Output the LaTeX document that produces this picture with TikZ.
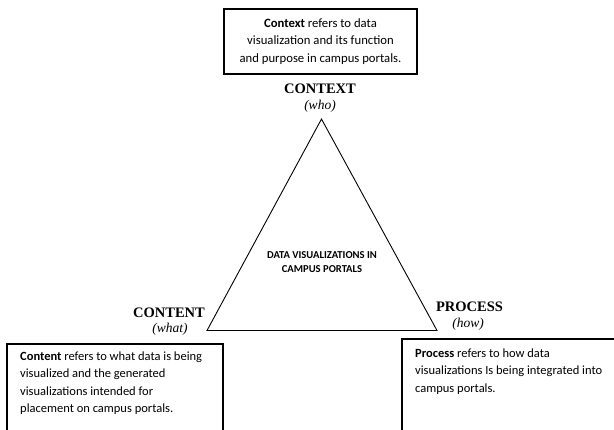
\documentclass[tikz,border=0pt]{standalone}
\usepackage{fontspec}
\setmainfont{Carlito}
\newfontfamily\labelfont{Liberation Serif}
\begin{document}
\begin{tikzpicture}[x=1pt,y=-1pt,
  frame/.style={draw=black, line width=1.1pt},
  desc/.style={font=\fontsize{12.5}{17.5}\selectfont, align=left, inner sep=0pt, anchor=north west},
  vertex/.style={font=\labelfont\fontsize{14.5}{15}\selectfont\bfseries, inner sep=0pt},
  role/.style={font=\labelfont\fontsize{13.5}{14}\selectfont\itshape, inner sep=0pt},
  core/.style={font=\fontsize{10.6}{14}\selectfont\bfseries, align=center, inner sep=0pt}]
\useasboundingbox[fill=white] (0,0) rectangle (614,429);

% context description box
\node[frame, minimum width=193pt, minimum height=65pt, inner sep=0pt, align=center,
      font=\fontsize{12.7}{17.5}\selectfont] (contextbox) at (320.5,41.5)
  {\textbf{Context} refers to data\\visualization and its function\\and purpose in campus portals.};

% the triangle
\coordinate (apex) at (321.5,119);
\coordinate (left) at (207,330.5);
\coordinate (right) at (437,330.5);
\draw[line width=0.9pt, line join=miter] (apex) -- (left) -- (right) -- cycle;

\node[core] (core) at (322,262.5) {DATA VISUALIZATIONS IN\\CAMPUS PORTALS};

% corner labels
\node[vertex] (context) at (320,89) {CONTEXT};
\node[role] (who) at (320,106.5) {(who)};
\node[vertex] (content) at (169,312.5) {CONTENT};
\node[role] (what) at (170,329.5) {(what)};
\node[vertex] (process) at (469.5,307) {PROCESS};
\node[role] (how) at (468,324) {(how)};

% content description box
\coordinate (cnw) at (7,344);
\coordinate (cse) at (223,445);
\draw[frame] (cnw) rectangle (cse);
\node[desc] (contenttext) at (20,351.5)
  {\textbf{Content} refers to what data is being\\visualized and the generated\\visualizations intended for\\placement on campus portals.};

% process description box
\coordinate (pnw) at (402,339);
\coordinate (pse) at (620,445);
\draw[frame] (pnw) rectangle (pse);
\node[desc] (processtext) at (415,348.5)
  {\textbf{Process} refers to how data\\visualizations Is being integrated into\\campus portals.};
\end{tikzpicture}
\end{document}
